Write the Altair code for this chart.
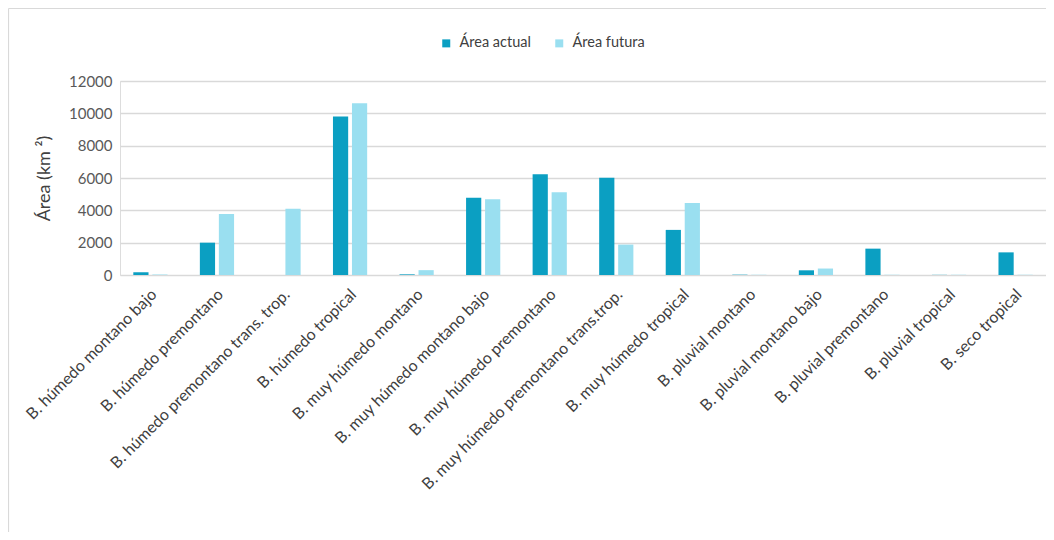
import altair as alt
import pandas as pd

categories = [
    "B. húmedo montano bajo",
    "B. húmedo premontano",
    "B. húmedo premontano trans. trop.",
    "B. húmedo tropical",
    "B. muy húmedo montano",
    "B. muy húmedo montano bajo",
    "B. muy húmedo premontano",
    "B. muy húmedo premontano trans.trop.",
    "B. muy húmedo tropical",
    "B. pluvial montano",
    "B. pluvial montano bajo",
    "B. pluvial premontano",
    "B. pluvial tropical",
    "B. seco tropical",
]
area_actual = [170, 2000, 0, 9800, 40, 4780, 6230, 6020, 2790, 20, 290, 1630, 10, 1400]
area_futura = [30, 3770, 4100, 10620, 300, 4680, 5120, 1880, 4450, 15, 400, 15, 15, 15]
series = ["Área actual", "Área futura"]
colors = ["#0b9fc2", "#9adff0"]
y_ticks = [0, 2000, 4000, 6000, 8000, 10000, 12000]

rows = []
for c, a, f in zip(categories, area_actual, area_futura):
    rows.append({"cat": c, "serie": series[0], "valor": a})
    rows.append({"cat": c, "serie": series[1], "valor": f})
df = pd.DataFrame(rows)

FONT = "Lato"
W, H = 926, 194

bars = alt.Chart(df).mark_bar().encode(
    x=alt.X("cat:N", sort=categories, title=None,
            scale=alt.Scale(paddingInner=0.486),
            axis=alt.Axis(labelAngle=-45, labelAlign="right", labelBaseline="top",
                          ticks=False, domain=False, labelFontSize=16,
                          labelColor="#404040", labelPadding=11, labelOffset=-2,
                          labelFont=FONT, labelLimit=400)),
    xOffset=alt.XOffset("serie:N", sort=series,
                        scale=alt.Scale(paddingInner=0.2, paddingOuter=0)),
    y=alt.Y("valor:Q", title="Área (km ²)",
            scale=alt.Scale(domain=[0, 12000], nice=False),
            axis=alt.Axis(values=y_ticks, format="d", ticks=False, domain=False,
                          labelFontSize=15, labelColor="#595959", labelPadding=8,
                          labelFont=FONT, titleFont=FONT, titleFontSize=18,
                          titleFontWeight="normal", titleColor="#404040",
                          titleX=-76, titleY=H / 2, titleBaseline="middle",
                          titleAlign="center", titleAngle=-90,
                          gridColor="#d9d9d9", gridWidth=1.5)),
    color=alt.Color("serie:N", sort=series,
                    scale=alt.Scale(domain=series, range=colors),
                    legend=alt.Legend(title=None, orient="none", direction="horizontal",
                                      legendX=319, legendY=-45, symbolType="square",
                                      symbolSize=64, symbolStrokeWidth=0,
                                      labelFontSize=14.5, labelFont=FONT,
                                      labelColor="#404040", columnPadding=21,
                                      labelOffset=6, padding=0)),
)

frame = alt.Data(values=[{}])
top_border = alt.Chart(frame).mark_rule(color="#d9d9d9", strokeWidth=1.2).encode(
    x=alt.value(-111.5), x2=alt.value(W + 20), y=alt.value(-72.5)
)
left_border = alt.Chart(frame).mark_rule(color="#d9d9d9", strokeWidth=1.2).encode(
    x=alt.value(-111.5), y=alt.value(-72.5), y2=alt.value(H + 300)
)

chart = alt.layer(top_border, left_border, bars).properties(
    width=W, height=H,
    autosize=alt.AutoSizeParams(type="none"),
    padding={"left": 112, "top": 73, "right": 0, "bottom": 257},
).configure_view(stroke=None).configure(background="white")

chart.save("out.html", embed_options={"renderer": "svg", "actions": False})
